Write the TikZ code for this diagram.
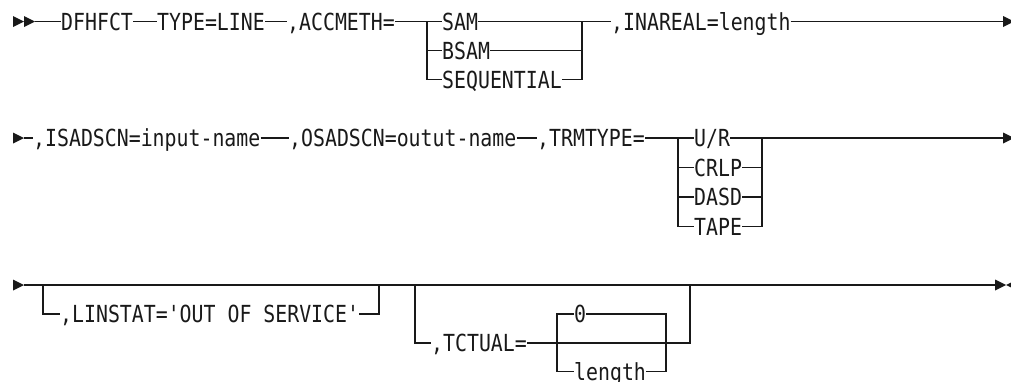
\documentclass[tikz,border=0pt]{standalone}
\usepackage{fontspec}
\newfontfamily\rrfont[FakeStretch=0.845]{DejaVu Sans Mono}
\tikzset{
  kw/.style={font=\rrfont\fontsize{23.5}{27}\selectfont, text=black!90, inner sep=0pt, text height=17.1pt, text depth=0pt, anchor=west},
  ln/.style={line width=1.3pt, draw=black!90},
  tri/.style={fill=black!90, draw=none}
}
\begin{document}
\begin{tikzpicture}[x=1pt,y=-1pt]
\useasboundingbox (0,0) rectangle (1011,381);
\clip (0,0) rectangle (1011,381);
% ---------- row 1 ----------
\fill[tri] (13,16) -- (24,21.5) -- (13,27) -- cycle;
\fill[tri] (24,16) -- (35,21.5) -- (24,27) -- cycle;
\coordinate (s1) at (35,21.5);
\node[kw] (dfh) at (61,21.5) {DFHFCT};
\node[kw] (typ) at (157,21.5) {TYPE=LINE};
\node[kw] (acc) at (287,21.5) {,ACCMETH=};
\coordinate (aL) at (427,21.5);
\coordinate (aR) at (582,21.5);
\node[kw] (sam) at (442,21.5) {SAM};
\node[kw] (bsam) at (442,50.5) {BSAM};
\node[kw] (seq) at (442,79.5) {SEQUENTIAL};
\node[kw] (ina) at (611,21.5) {,INAREAL=length};
\coordinate (e1) at (1003,21.5);
\fill[tri] (1003,16) -- (1014,21.5) -- (1003,27) -- cycle;
\draw[ln] (s1) -- (dfh.west);
\draw[ln] (dfh.east) -- (typ.west);
\draw[ln] (typ.east) -- (acc.west);
\draw[ln] (acc.east) -- (aL) -- (sam.west);
\draw[ln] (sam.east) -- (aR) -- (ina.west);
\draw[ln] (aL) |- (seq.west);
\draw[ln] (aL |- bsam.west) -- (bsam.west);
\draw[ln] (seq.east) -| (aR);
\draw[ln] (bsam.east) -- (aR |- bsam.east);
\draw[ln] (ina.east) -- (e1);
% ---------- row 2 ----------
\fill[tri] (13,132.5) -- (24,138) -- (13,143.5) -- cycle;
\coordinate (s2) at (24,138);
\node[kw] (isa) at (33,138) {,ISADSCN=input-name};
\node[kw] (osa) at (289,138) {,OSADSCN=outut-name};
\node[kw] (trm) at (537,138) {,TRMTYPE=};
\coordinate (tL) at (678,138);
\coordinate (tR) at (762,138);
\node[kw] (ur) at (694,138) {U/R};
\node[kw] (crlp) at (694,167.5) {CRLP};
\node[kw] (dasd) at (694,197) {DASD};
\node[kw] (tape) at (694,226.5) {TAPE};
\coordinate (e2) at (1003,138);
\fill[tri] (1003,132.5) -- (1014,138) -- (1003,143.5) -- cycle;
\draw[ln] (s2) -- (isa.west);
\draw[ln] (isa.east) -- (osa.west);
\draw[ln] (osa.east) -- (trm.west);
\draw[ln] (trm.east) -- (tL) -- (ur.west);
\draw[ln] (ur.east) -- (tR) -- (e2);
\draw[ln] (tL) |- (tape.west);
\draw[ln] (tL |- crlp.west) -- (crlp.west);
\draw[ln] (tL |- dasd.west) -- (dasd.west);
\draw[ln] (tape.east) -| (tR);
\draw[ln] (crlp.east) -- (tR |- crlp.east);
\draw[ln] (dasd.east) -- (tR |- dasd.east);
% ---------- row 3 ----------
\fill[tri] (13,279.5) -- (24,285) -- (13,290.5) -- cycle;
\coordinate (s3) at (24,285);
\coordinate (e3) at (995,285);
\fill[tri] (995,279.5) -- (1006,285) -- (995,290.5) -- cycle;
\fill[tri] (1017,279.5) -- (1006,285) -- (1017,290.5) -- cycle;
\draw[ln] (s3) -- (e3);
% LINSTAT optional
\coordinate (lL) at (43,285);
\coordinate (lR) at (379,285);
\node[kw] (lin) at (60,314) {,LINSTAT='OUT OF SERVICE'};
\draw[ln] (lL) |- (lin.west);
\draw[ln] (lin.east) -| (lR);
% TCTUAL optional
\coordinate (cL) at (415,285);
\coordinate (cR) at (690,285);
\node[kw] (tct) at (431,343) {,TCTUAL=};
\node[kw] (zero) at (574,314) {0};
\node[kw] (len) at (574,371.5) {length};
\coordinate (iLb) at (557,371.5);
\coordinate (iRb) at (666,371.5);
\coordinate (cRb) at (690,343);
\draw[ln] (cL) |- (tct.west);
\draw[ln] (tct.east) -- (cRb) -- (cR);
\draw[ln] (zero.west) -| (iLb) -- (len.west);
\draw[ln] (zero.east) -| (iRb) -- (len.east);
\end{tikzpicture}
\end{document}
